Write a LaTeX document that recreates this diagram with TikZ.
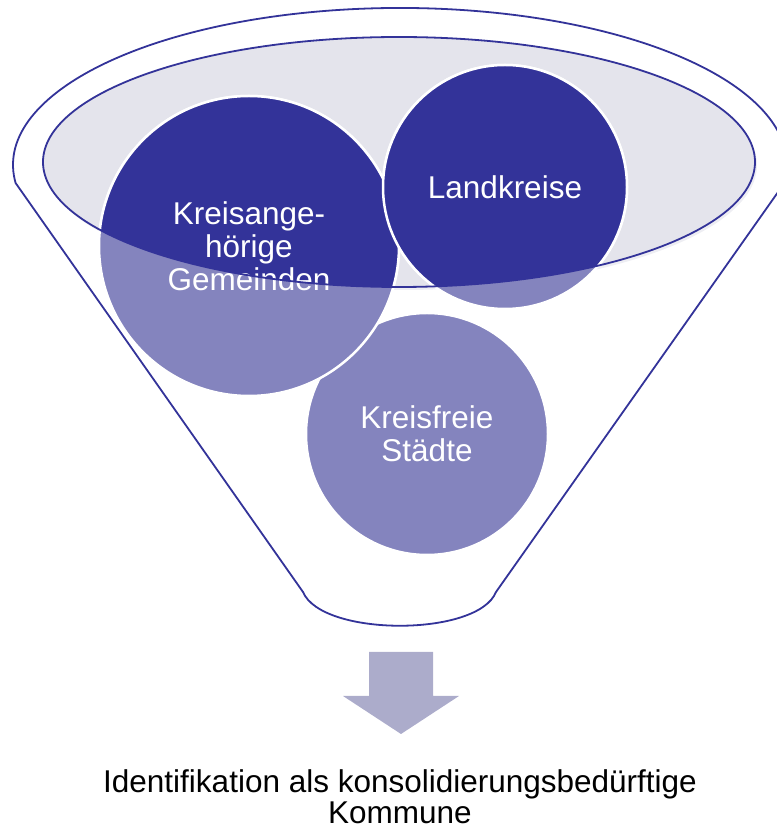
\documentclass[tikz,border=0pt]{standalone}
\usepackage{fontspec}
\setmainfont{Liberation Sans}
\definecolor{darkblue}{RGB}{51,51,153}
\definecolor{midblue}{RGB}{132,132,190}
\definecolor{arrowblue}{RGB}{172,172,203}
\definecolor{mouthgray}{RGB}{228,228,236}
\definecolor{shadowgray}{RGB}{238,238,243}

\begin{document}
\begin{tikzpicture}[x=1pt, y=1pt,
    rimline/.style={draw=darkblue, line width=1.8pt, line join=round},
    bubble/.style={circle, fill=midblue, draw=white, line width=2.5pt, inner sep=0pt},
    bubbletext/.style={text=white, align=center, font=\fontsize{31.5}{33}\selectfont}]

  \useasboundingbox (0,0) rectangle (777,831);
  \clip (0,0) rectangle (777,831);

  % Trichter
  \draw[rimline] (303,239) -- (15.6,648)
    arc[start angle=186.6, end angle=-6.6, x radius=387pt, y radius=157pt]
    -- (496,239) .. controls (478,194) and (322,194) .. (303,239) -- cycle;

  % Oeffnung
  \fill[shadowgray] (401,666) ellipse[x radius=356pt, y radius=125pt];
  \fill[mouthgray] (399,669) ellipse[x radius=356pt, y radius=125pt];

  % Kreise
  \node[bubble, minimum size=242pt] (KS) at (427,397) {};
  \node[bubble, minimum size=300pt] (KA) at (249,585) {};
  \node[bubble, minimum size=244pt] (LK) at (505,644) {};

  \begin{scope}
    \clip (399,669) ellipse[x radius=356pt, y radius=125pt];
    \filldraw[fill=darkblue, draw=white, line width=2.5pt] (KA.center) circle[radius=150pt];
    \filldraw[fill=darkblue, draw=white, line width=2.5pt] (LK.center) circle[radius=122pt];
  \end{scope}

  \node[bubbletext] (KAtext) at (KA.center) {Kreisange-\\hörige\\Gemeinden};
  \node[bubbletext] (LKtext) at (LK.center) {Landkreise};
  \node[bubbletext] (KStext) at (KS.center) {Kreisfreie\\Städte};

  \draw[rimline] (399,669) ellipse[x radius=356pt, y radius=125pt];

  % Pfeil
  \coordinate (tip) at (401,97);
  \fill[arrowblue] (tip) -- ++(58,38) -- ++(-26,0) -- ++(0,44) -- ++(-64,0)
    -- ++(0,-44) -- ++(-26,0) -- cycle;

  \node[align=center, font=\fontsize{31.5}{31}\selectfont] (ID) at (400,34)
    {Identifikation als konsolidierungsbedürftige\\Kommune};
\end{tikzpicture}
\end{document}
